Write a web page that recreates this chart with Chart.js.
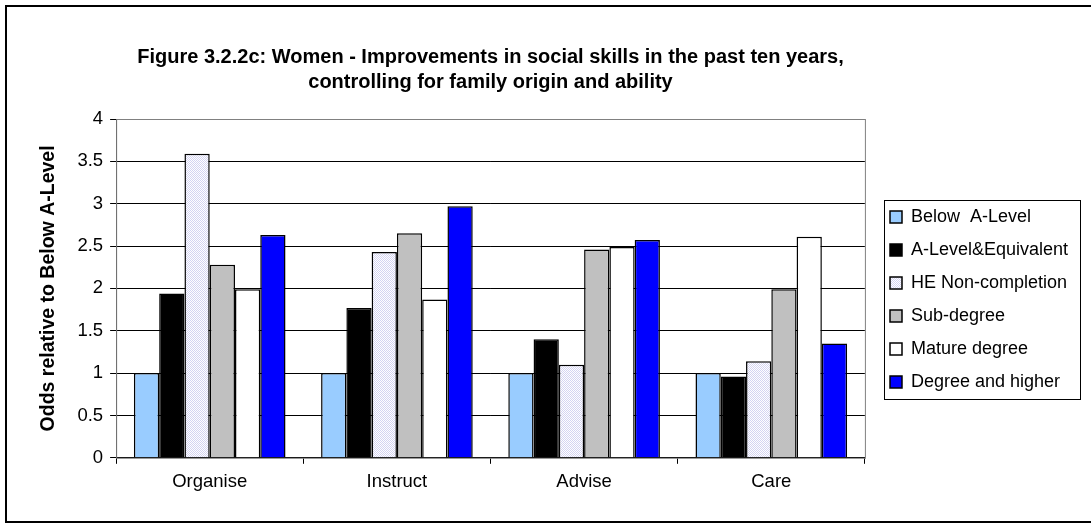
<!DOCTYPE html>
<html>
<head>
<meta charset="utf-8">
<script src="https://cdn.jsdelivr.net/npm/chart.js@4"></script>
<style>
    html, body { margin: 0; padding: 0; background: #fff; }
    #frame { position: absolute; left: 5px; top: 5px; width: 1100px; height: 514px; border: 2px solid #000; }
    #wrap { position: absolute; left: 0; top: 0; width: 1091px; height: 527px; }
</style>
</head>
<body>
<div id="frame"></div>
<div id="wrap"><canvas id="chart" width="1091" height="527"></canvas></div>
<script>
// Categories and series (odds relative to Below A-Level)
const categories = ['Organise', 'Instruct', 'Advise', 'Care'];
const belowALevel = [1, 1, 1, 1];
const aLevelEquivalent = [1.94, 1.77, 1.40, 0.96];
const heNonCompletion = [3.59, 2.43, 1.10, 1.14];
const subDegree = [2.28, 2.65, 2.46, 1.99];
const matureDegree = [1.99, 1.87, 2.49, 2.61];
const degreeAndHigher = [2.63, 2.97, 2.57, 1.35];
const yTicks = [0, 0.5, 1, 1.5, 2, 2.5, 3, 3.5, 4];

const FONT = "'Liberation Sans', Arial, sans-serif";
Chart.defaults.color = '#000';
Chart.defaults.font.family = FONT;

// light dotted fill for the HE Non-completion bars
function dottedPattern() {
    const c = document.createElement('canvas');
    c.width = 2; c.height = 2;
    const g = c.getContext('2d');
    g.fillStyle = '#ffffff';
    g.fillRect(0, 0, 2, 2);
    g.fillStyle = '#d4d4f2';
    g.fillRect(0, 0, 1, 1);
    g.fillRect(1, 1, 1, 1);
    return g.createPattern(c, 'repeat');
}

// grey plot-area frame
const plotBorder = {
    id: 'plotBorder',
    beforeDatasetsDraw(chart) {
        const {ctx, chartArea: a} = chart;
        ctx.save();
        ctx.strokeStyle = '#808080';
        ctx.lineWidth = 1;
        ctx.strokeRect(a.left + 0.5, a.top + 0.5, a.right - a.left, a.bottom - a.top);
        ctx.restore();
    }
};

// move legend and draw its box
const legendBox = {
    id: 'legendBox',
    afterLayout(chart) {
        const lg = chart.legend;
        const h = lg.height;
        lg.left = 875;
        lg.top = 193;
        lg.bottom = lg.top + h;
    },
    afterDraw(chart) {
        const ctx = chart.ctx;
        ctx.save();
        ctx.strokeStyle = '#000';
        ctx.lineWidth = 1;
        ctx.strokeRect(884.5, 200.5, 196, 199);
        ctx.restore();
    }
};

const mk = (label, data, bg) => ({
    label: label,
    data: data,
    backgroundColor: bg,
    borderColor: '#000',
    borderWidth: 1.5,
    categoryPercentage: 0.81,
    barPercentage: 1.0
});

new Chart(document.getElementById('chart').getContext('2d'), {
    type: 'bar',
    data: {
        labels: categories,
        datasets: [
            mk('Below  A-Level', belowALevel, '#99ccff'),
            mk('A-Level&Equivalent', aLevelEquivalent, '#000000'),
            mk('HE Non-completion', heNonCompletion, dottedPattern()),
            mk('Sub-degree', subDegree, '#c0c0c0'),
            mk('Mature degree', matureDegree, '#ffffff'),
            mk('Degree and higher', degreeAndHigher, '#0000ff')
        ]
    },
    options: {
        responsive: false,
        animation: false,
        events: [],
        layout: { padding: { top: 35, left: 30, right: 23, bottom: 27 } },
        plugins: {
            title: {
                display: true,
                fullSize: false,
                text: ['Figure 3.2.2c: Women - Improvements in social skills in the past ten years,',
                       'controlling for family origin and ability'],
                font: { size: 20, weight: 'bold', lineHeight: 1.25 },
                padding: { top: 10, bottom: 24 }
            },
            legend: {
                position: 'right',
                align: 'start',
                labels: {
                    boxWidth: 12,
                    boxHeight: 12,
                    padding: 15,
                    font: { size: 18 }
                }
            },
            tooltip: { enabled: false }
        },
        scales: {
            x: {
                grid: { offset: true, drawOnChartArea: false, tickLength: 6, color: '#000' },
                border: { color: '#000' },
                ticks: { font: { size: 18.5 }, padding: 7 }
            },
            y: {
                min: 0,
                max: 4,
                afterBuildTicks: axis => { axis.ticks = yTicks.map(v => ({ value: v })); },
                grid: { color: '#000', tickLength: 6 },
                border: { color: '#000' },
                ticks: { font: { size: 18.5 }, padding: 7, callback: v => String(v) },
                title: {
                    display: true,
                    text: 'Odds relative to Below A-Level',
                    font: { size: 19.5, weight: 'bold' },
                    padding: { top: 7, bottom: 10 }
                }
            }
        }
    },
    plugins: [plotBorder, legendBox]
});
</script>
</body>
</html>
